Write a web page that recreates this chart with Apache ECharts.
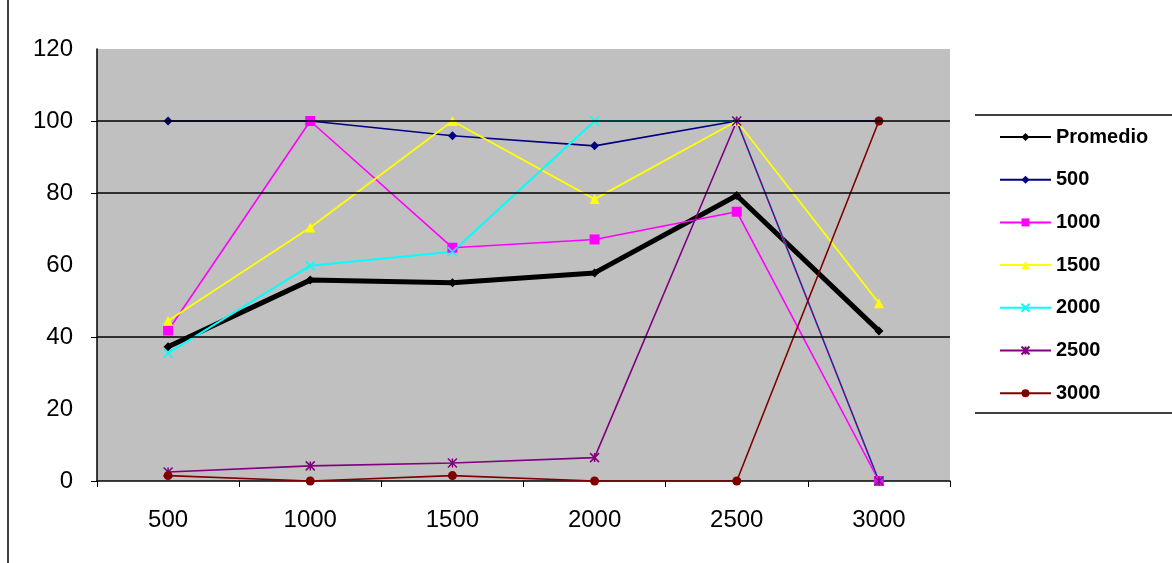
<!DOCTYPE html>
<html>
<head>
<meta charset="utf-8">
<script src="https://cdn.jsdelivr.net/npm/echarts@6/dist/echarts.min.js"></script>
<style>html,body{margin:0;padding:0;background:#fff}#c{width:1172px;height:563px}</style>
</head>
<body>
<div id="c"></div>
<script>
var categories = ['500', '1000', '1500', '2000', '2500', '3000'];
var seriesNames = ['Promedio', '500', '1000', '1500', '2000', '2500', '3000'];
var promedio = [37.3, 55.8, 55.1, 57.8, 79.3, 41.7];
var s500 = [100, 100, 95.9, 93.1, 100, 100];
var s1000 = [41.8, 100, 64.8, 67.1, 74.8, 0];
var s1500 = [44.5, 70.4, 100, 78.3, 100, 49.4];
var s2000 = [35.5, 59.8, 63.7, 100, 100, 0];
var s2500 = [2.5, 4.2, 5, 6.5, 100, 0];
var s3000 = [1.5, 0, 1.5, 0, 0, 100];
var yTicks = [0, 20, 40, 60, 80, 100, 120];
var yGridValues = [0, 40, 80, 100];

var chart = echarts.init(document.getElementById('c'));
var xMark = 'path://M0,0L10,10M10,0L0,10';
var starMark = 'path://M0,0L10,10M10,0L0,10M5,0L5,10';
var styles = [
  {color: '#000000', width: 5, symbol: 'diamond', size: 9},
  {color: '#000080', width: 1.6, symbol: 'diamond', size: 9},
  {color: '#FF00FF', width: 1.6, symbol: 'rect', size: 10},
  {color: '#FFFF00', width: 1.8, symbol: 'triangle', size: 10},
  {color: '#00FFFF', width: 2, symbol: xMark, size: 9},
  {color: '#800080', width: 1.6, symbol: starMark, size: 9},
  {color: '#800000', width: 1.6, symbol: 'circle', size: 9}
];
var datas = [promedio, s500, s1000, s1500, s2000, s2500, s3000];
var series = [{
  name: 'grid',
  type: 'line',
  data: [],
  z: 1,
  silent: true,
  markLine: {
    silent: true,
    symbol: 'none',
    animation: false,
    label: {show: false},
    lineStyle: {color: '#000', width: 1.5, type: 'solid'},
    data: yGridValues.filter(function (v) { return v > 0; }).map(function (v) { return {yAxis: v}; })
  }
}];
datas.forEach(function (d, i) {
  var st = styles[i];
  series.push({
    name: seriesNames[i],
    type: 'line',
    data: d,
    z: 3,
    symbol: st.symbol,
    symbolSize: st.size,
    showAllSymbol: true,
    animation: false,
    lineStyle: {color: st.color, width: st.width},
    itemStyle: {color: st.color, borderColor: st.color, borderWidth: (st.symbol === xMark || st.symbol === starMark) ? 1.5 : 0}
  });
});

var font = 'Liberation Sans, Arial, sans-serif';
chart.setOption({
  animation: false,
  grid: {left: 97, right: 222, top: 49, bottom: 82, show: true, backgroundColor: '#C0C0C0', borderWidth: 0},
  legend: {
    orient: 'vertical',
    left: 999,
    top: 126.5,
    padding: 0,
    itemGap: 21.7,
    itemWidth: 51,
    itemHeight: 10,
    data: seriesNames,
    textStyle: {fontFamily: font, fontSize: 20, fontWeight: 'bold', lineHeight: 21, color: '#000'}
  },
  xAxis: {
    type: 'category',
    data: categories,
    boundaryGap: true,
    axisLine: {lineStyle: {color: '#000', width: 1.5}},
    axisTick: {show: true, length: 6, lineStyle: {color: '#000'}},
    axisLabel: {color: '#000', fontSize: 24, fontFamily: font, margin: 27}
  },
  yAxis: {
    type: 'value',
    min: 0,
    max: 120,
    interval: 20,
    axisLine: {show: true, lineStyle: {color: '#000', width: 1.5}},
    axisTick: {show: true, length: 6, lineStyle: {color: '#000'}, customValues: yGridValues},
    splitLine: {show: false},
    axisLabel: {color: '#000', fontSize: 24, fontFamily: font, margin: 24, customValues: yTicks}
  },
  graphic: [
    {type: 'line', shape: {x1: 975, y1: 115, x2: 1172, y2: 115}, style: {stroke: '#000', lineWidth: 1.5}},
    {type: 'line', shape: {x1: 975, y1: 413, x2: 1172, y2: 413}, style: {stroke: '#000', lineWidth: 1.5}},
    {type: 'line', shape: {x1: 8, y1: 0, x2: 8, y2: 563}, style: {stroke: '#000', lineWidth: 1.5}}
  ],
  series: series
});
</script>
</body>
</html>
